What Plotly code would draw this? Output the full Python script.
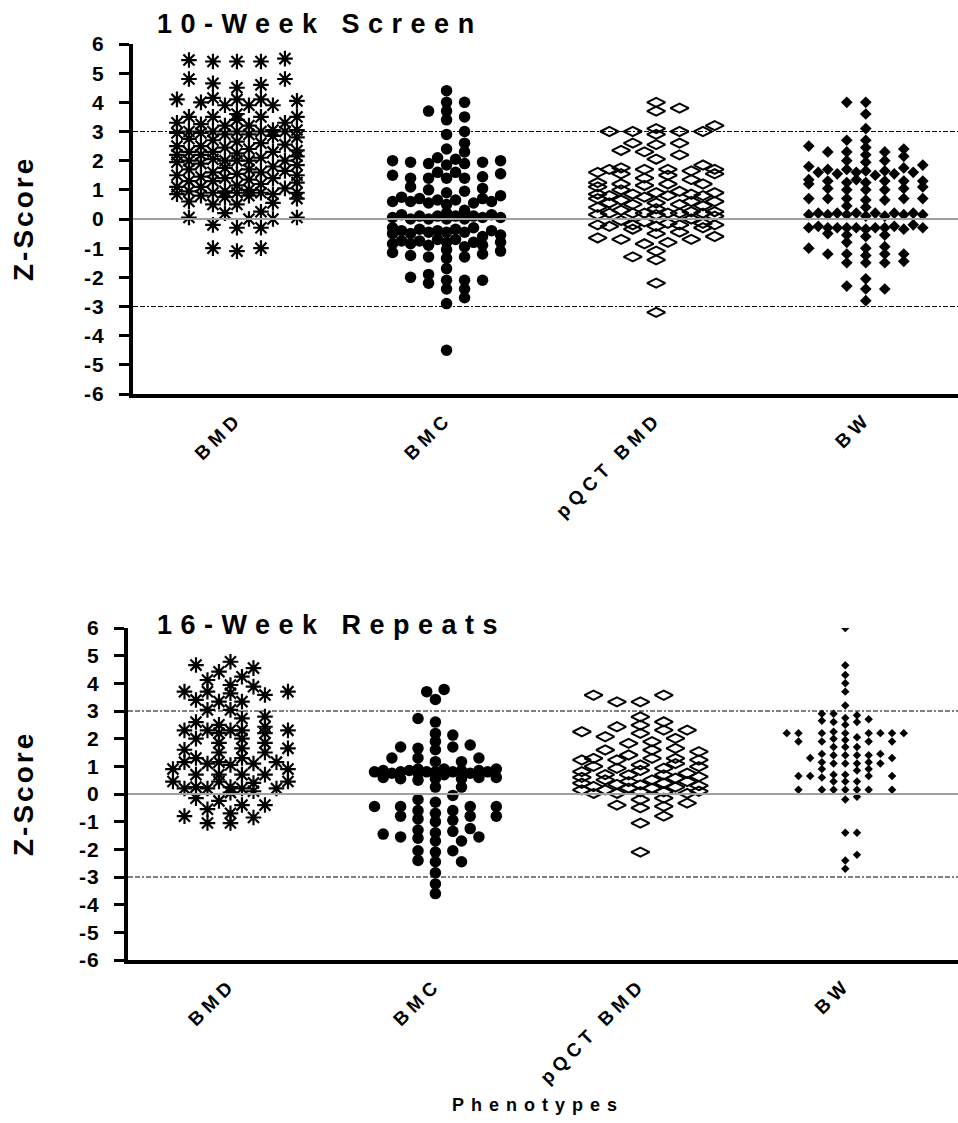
import plotly.graph_objects as go

# ---------------- data: Z-scores per phenotype ----------------
categories = ["BMD", "BMC", "pQCT BMD", "BW"]
y_ticks = list(range(-6, 7))
y_tick_labels = [str(v) for v in y_ticks]  # plain hyphen minus signs

bmd_10wk = [5.4, 5.5, 5.4, 5.45, 5.4,
            4.65, 4.8, 4.8, 4.6, 4.5,
            4.1, 4.15, 4.05, 4.0, 4.1, 4.1, 3.9, 3.9, 3.9,
            3.6, 3.5, 3.5, 3.5, 3.4, 3.5, 3.3, 3.3, 3.25, 3.2, 3.2,
            3.05, 3.0, 3.0, 3.0, 2.95, 2.95, 3.0, 2.9, 3.05, 2.9, 3.0, 2.85,
            2.8, 2.75, 2.7, 2.65, 2.6, 2.55, 2.5, 2.5, 2.45, 2.4,
            2.35, 2.3, 2.3, 2.3, 2.25, 2.2, 2.2, 2.15,
            2.1, 2.05, 2.0, 2.0, 2.0, 1.95, 2.0, 1.9, 2.0, 1.85,
            1.8, 1.75, 1.7, 1.7, 1.65, 1.6, 1.6, 1.55,
            1.5, 1.5, 1.45, 1.4, 1.4, 1.35, 1.3, 1.3, 1.25,
            1.2, 1.15, 1.1, 1.1, 1.05, 1.0,
            0.95, 0.95, 0.9, 0.9, 0.85, 0.9, 0.8, 0.8, 0.75, 0.9, 0.85, 0.7,
            0.6, 0.55, 0.5, 0.5,
            0.25, 0.2, 0.05, 0.05, 0.0, 0.0,
            -0.2, -0.3, -0.3,
            -1.0, -1.1, -1.0]

bmc_10wk = [4.4, 4.0, 4.0, 3.7, 3.7, 3.5, 3.4, 3.0, 2.9, 2.6, 2.4, 2.3,
            2.05, 2.0, 2.0, 1.95, 1.95, 1.9, 1.9, 1.85, 2.1,
            1.6, 1.6, 1.55, 1.45, 1.4, 1.4, 1.4, 1.4, 1.5,
            1.1, 1.0, 0.95, 1.05,
            0.9, 0.8, 0.75, 0.7, 0.65, 0.65, 0.6, 0.6, 0.6, 0.55, 0.55, 0.5, 0.7,
            0.3, 0.2, 0.15, 0.15, 0.1, 0.1, 0.1, 0.1, 0.05, 0.05, 0.05, 0.0, 0.0, 0.0, 0.0,
            -0.3, -0.3, -0.35, -0.35, -0.4, -0.4, -0.4, -0.45, -0.45, -0.45, -0.5, -0.5, -0.55, -0.6,
            -0.7, -0.75, -0.75, -0.8, -0.8, -0.8, -0.85, -0.85, -0.9, -0.9, -0.7, -0.95,
            -1.05, -1.1, -1.15, -1.2, -1.25, -1.3, -1.3, -1.35,
            -1.7, -1.9,
            -2.0, -2.1, -2.1, -2.1, -2.2, -2.4, -2.4,
            -2.7, -2.9, -4.5]

pqct_10wk = [4.0, 3.8, 3.7, 3.2, 3.1, 3.0, 3.0, 3.0, 3.0, 2.9,
             2.6, 2.55, 2.6, 2.3, 2.35, 2.05, 2.2, 1.85,
             1.75, 1.7, 1.7, 1.7, 1.7, 1.65, 1.6, 1.55, 1.55, 1.5,
             1.4, 1.35, 1.2, 1.2, 1.2, 1.25, 1.15, 1.1, 1.0,
             0.95, 0.9, 0.85, 0.85, 0.8, 0.8, 0.85, 0.8, 0.75, 0.9,
             0.7, 0.65, 0.6, 0.55, 0.55, 0.5, 0.5, 0.6, 0.45, 0.4, 0.35,
             0.3, 0.25, 0.2, 0.2, 0.2, 0.2, 0.15, 0.2, 0.2, 0.25, 0.15, 0.1, 0.0,
             -0.05, -0.1, -0.15, -0.2, -0.2, -0.2, -0.25, -0.25, -0.2, -0.3, -0.15, -0.35,
             -0.45, -0.5, -0.6, -0.7, -0.7, -0.8, -0.85, -0.65,
             -1.1, -1.3, -1.4, -2.2, -3.2]

bw_10wk = [4.0, 4.0, 3.6, 3.1,
           2.7, 2.7, 2.5, 2.45, 2.4, 2.3, 2.3, 2.3, 2.2, 2.15, 2.0, 2.0, 1.95,
           1.85, 1.8, 1.75, 1.7, 1.7, 1.65, 1.65, 1.6, 1.6, 1.6, 1.55, 1.55, 1.5,
           1.35, 1.3, 1.3, 1.3, 1.25, 1.25, 1.2, 1.3, 1.35,
           1.05, 1.0, 1.0, 1.0, 1.05, 1.1,
           0.7, 0.7, 0.65, 0.7, 0.7, 0.65, 0.7,
           0.45, 0.4,
           0.2, 0.2, 0.15, 0.15, 0.2, 0.15, 0.15, 0.2, 0.1, 0.15, 0.2, 0.1, 0.2,
           -0.2, -0.25, -0.3, -0.3, -0.3, -0.35, -0.3, -0.3, -0.3, -0.25, -0.3, -0.3, -0.35,
           -0.55, -0.55, -0.5, -0.6,
           -0.8, -0.95, -1.0, -1.0,
           -1.2, -1.25, -1.2, -1.2, -1.2,
           -1.5, -1.5, -1.5, -1.45,
           -2.05, -2.3, -2.4, -2.4, -2.8]

bmd_16wk = [4.55, 4.78, 4.42, 4.66, 4.24, 4.12, 3.88, 3.94, 3.64, 3.7, 3.7, 3.7, 3.58,
            3.4, 3.34, 3.34, 3.04, 3.04, 2.8, 2.73, 2.6, 2.5, 2.43,
            2.2, 2.3, 2.3, 2.3, 2.2, 2.3, 2.3, 2.0, 2.0, 1.85, 1.85,
            1.65, 1.65, 1.6, 1.5, 1.5, 1.3, 1.3, 1.1, 1.15, 1.15, 1.15, 1.05, 1.1,
            0.9, 0.9, 0.7, 0.7, 0.7, 0.7, 0.45, 0.45, 0.4, 0.45,
            0.2, 0.2, 0.25, 0.2, 0.25, 0.2, 0.1, 0.05,
            -0.15, -0.25, -0.4, -0.4, -0.55, -0.7, -0.8, -0.85, -1.05, -1.05]

bmc_16wk = [3.78, 3.7, 3.42, 2.73, 2.6, 2.13, 2.19, 1.9, 1.7, 1.6, 1.65, 1.7, 1.77,
            1.3, 1.3, 1.17, 1.17, 1.3,
            0.9, 0.85, 0.9, 0.8, 0.85, 0.8, 0.9, 0.8, 0.85, 0.8, 0.75, 0.8, 0.85, 0.75, 0.8, 0.7, 0.75,
            0.6, 0.55, 0.55, 0.5, 0.55, 0.6, 0.6,
            0.25, 0.25, -0.05, -0.2, -0.3, -0.45, -0.45, -0.45, -0.45, -0.6, -0.6,
            -0.8, -0.8, -0.9, -0.8, -0.7, -1.0, -0.95,
            -1.35, -1.45, -1.4, -1.3, -1.25, -1.55, -1.55, -1.6, -1.7, -1.7,
            -2.05, -2.1, -2.05, -2.45, -2.45, -2.4, -2.85, -3.25, -3.6]

pqct_16wk = [3.57, 3.33, 3.33, 3.57, 2.79, 2.49, 2.61, 2.43, 2.31, 2.19, 2.31, 2.07, 2.25,
             2.01, 1.89, 1.83, 1.59, 1.65, 1.59, 1.53, 1.41, 1.29, 1.23, 1.29, 1.23, 1.29, 1.23,
             1.1, 1.05, 1.0, 0.93, 0.93, 0.99, 0.85, 0.81, 0.75, 0.7, 0.69, 0.69, 0.63, 0.6, 0.57,
             0.51, 0.51, 0.45, 0.45, 0.39, 0.39, 0.35, 0.33, 0.3, 0.27, 0.25, 0.21, 0.21,
             0.15, 0.15, 0.1, 0.08, 0.08, 0.02, 0.02, 0.02,
             -0.15, -0.2, -0.33, -0.4, -0.45, -0.5, -0.8, -1.05, -2.1]

bw_16wk = [6.0, 4.65, 4.3, 4.0, 3.7, 3.2, 2.9, 2.85, 2.75, 2.7, 2.9, 2.6, 2.5, 2.65, 2.6, 2.25,
           2.2, 2.2, 2.2, 2.2, 2.2, 2.2, 2.2, 2.2, 2.05, 2.0, 1.95, 1.9, 1.9, 1.9, 1.9, 1.7, 1.7, 1.7,
           1.45, 1.4, 1.4, 1.4, 1.4, 1.45, 1.3, 1.3, 1.15, 1.1, 1.1, 1.1, 1.1, 1.15, 0.9, 0.85, 0.9,
           0.7, 0.65, 0.65, 0.65, 0.65, 0.7, 0.6, 0.45, 0.45, 0.45,
           0.15, 0.15, 0.15, 0.15, 0.15, 0.15, 0.15, -0.1, -0.2,
           -1.4, -1.4, -2.2, -2.4, -2.7]

# ---------------- page geometry (pixels) ----------------
W, H = 958, 1123
FONT = "Liberation Sans, Arial, sans-serif"


def spaced(text, px, bold=True):
    inner = f"<b>{text}</b>" if bold else text
    return f'<span style="letter-spacing:{px}px">{inner}</span>'


def swarm(values, w, h, step, max_off, ppu_x, ppu_y):
    """Column-scatter layout: spread points sideways so markers do not pile up."""
    order = sorted(range(len(values)), key=lambda i: values[i])
    placed = []
    offsets = [0.0] * len(values)
    n_steps = int(max_off // step)
    flip = False
    for i in order:
        y = values[i] * ppu_y
        cands = [0.0]
        for k in range(1, n_steps + 1):
            pair = [k * step, -k * step]
            cands += pair[::-1] if flip else pair
        flip = not flip
        best, best_d = None, -1.0
        for c in cands:
            dmin = 1e9
            for (px, py) in placed:
                d = ((c - px) / w) ** 2 + ((y - py) / h) ** 2
                if d < dmin:
                    dmin = d
            if dmin >= 1.0:
                best = c
                break
            if dmin > best_d:
                best_d, best = dmin, c
        placed.append((best, y))
        offsets[i] = best / ppu_x
    return offsets


panels = [
    dict(series=[bmd_10wk, bmc_10wk, pqct_10wk, bw_10wk], top=44, bottom=394, left=133,
         xrange=[-0.496, 3.44], title="10-Week Screen", title_y=24, small_bw=False),
    dict(series=[bmd_16wk, bmc_16wk, pqct_16wk, bw_16wk], top=628, bottom=960, left=128,
         xrange=[-0.5, 3.55], title="16-Week Repeats", title_y=625, small_bw=True),
]

fig = go.Figure()
shapes, annotations = [], []

for p_i, p in enumerate(panels):
    sfx = "" if p_i == 0 else "2"
    xa, ya = "x" + sfx, "y" + sfx
    ppu_x = (W - p["left"]) / (p["xrange"][1] - p["xrange"][0])
    ppu_y = (p["bottom"] - p["top"]) / 12.0

    styles = [
        dict(symbol="asterisk-open", size=13, color="black", line=dict(width=2.2, color="black"),
             w=24, h=9, step=12, max_off=62),
        dict(symbol="circle", size=11.5, color="black", line=dict(width=0),
             w=18, h=8, step=9, max_off=62),
        dict(symbol="diamond-wide-open", size=13, color="black", line=dict(width=2, color="black"),
             w=23.4, h=8, step=11.7, max_off=60),
        (dict(symbol="diamond", size=6.5, color="black", line=dict(width=0),
              w=11.7, h=6, step=11.7, max_off=60) if p["small_bw"] else
         dict(symbol="diamond", size=9, color="black", line=dict(width=0),
              w=19, h=7, step=9.5, max_off=62)),
    ]
    if p["small_bw"]:
        styles[0].update(w=23, step=11.5)
        styles[1].update(w=17.5, step=8.7)

    for c_i, vals in enumerate(p["series"]):
        st = styles[c_i]
        offs = swarm(vals, st["w"], st["h"], st["step"], st["max_off"], ppu_x, ppu_y)
        fig.add_trace(go.Scatter(
            x=[c_i + o for o in offs], y=vals, mode="markers",
            xaxis=xa, yaxis=ya, showlegend=False, hoverinfo="y",
            marker=dict(symbol=st["symbol"], size=st["size"], color=st["color"], line=st["line"]),
        ))

    dom_x = [p["left"] / W, 1.0]
    dom_y = [1 - p["bottom"] / H, 1 - p["top"] / H]
    xkey = "xaxis" if p_i == 0 else "xaxis2"
    ykey = "yaxis" if p_i == 0 else "yaxis2"
    fig.update_layout(**{
        xkey: dict(domain=dom_x, range=p["xrange"], anchor=ya, showgrid=False, zeroline=False,
                   showline=True, linewidth=4, linecolor="black", ticks="",
                   tickvals=list(range(len(categories))),
                   ticktext=[spaced(c, 5) for c in categories], tickangle=-45,
                   tickfont=dict(family=FONT, size=19, color="black"),
                   ticklabelstandoff=2, automargin=False, fixedrange=True),
        ykey: dict(domain=dom_y, range=[-6, 6], anchor=xa, showgrid=False, zeroline=False,
                   showline=True, linewidth=4, linecolor="black", ticks="outside",
                   ticklen=10, tickwidth=3, tickcolor="black",
                   tickvals=y_ticks, ticktext=[spaced(t, 1) for t in y_tick_labels],
                   tickfont=dict(family=FONT, size=21, color="black"),
                   ticklabelstandoff=10, automargin=False, fixedrange=True),
    })

    # reference lines: zero (grey) and +/-3 (dash-dot)
    shapes.append(dict(type="line", xref=xa + " domain", yref=ya, x0=0, x1=1, y0=0, y1=0,
                       line=dict(color="#a0a0a0", width=2), layer="above"))
    for lvl in (3, -3):
        shapes.append(dict(type="line", xref=xa + " domain", yref=ya, x0=0, x1=1, y0=lvl, y1=lvl,
                           line=dict(color="black", width=1.2, dash="5px,2px,5px,2px,2px,2px"),
                           layer="above"))

    annotations.append(dict(text=spaced(p["title"], 8.5), xref="paper", yref="paper",
                            x=155 / W, y=1 - p["title_y"] / H, xanchor="left", yanchor="middle",
                            showarrow=False,
                            font=dict(family=FONT, size=27, color="black")))
    annotations.append(dict(text=spaced("Z-Score", 3), xref="paper", yref="paper",
                            x=23 / W, y=1 - (p["top"] + p["bottom"]) / 2 / H,
                            xanchor="center", yanchor="middle", textangle=-90, showarrow=False,
                            font=dict(family=FONT, size=28, color="black")))

annotations.append(dict(text=spaced("Phenotypes", 7), xref="paper", yref="paper",
                        x=538 / W, y=1 - 1105 / H, xanchor="center", yanchor="middle",
                        showarrow=False,
                        font=dict(family=FONT, size=18, color="black")))

fig.update_layout(width=W, height=H, margin=dict(l=0, r=0, t=0, b=0),
                  paper_bgcolor="white", plot_bgcolor="white",
                  shapes=shapes, annotations=annotations, showlegend=False)

fig.write_html("out.html")
